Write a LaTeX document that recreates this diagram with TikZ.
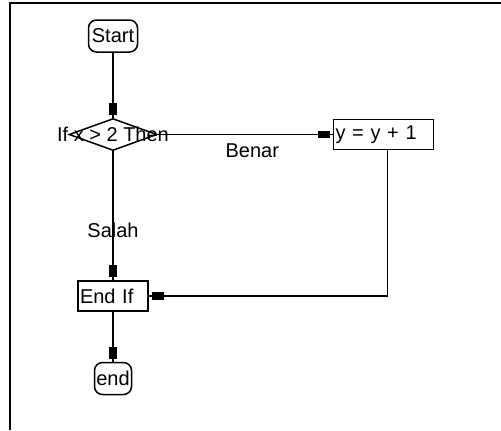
\documentclass[tikz,border=0pt]{standalone}
\usepackage{fontspec}
\setmainfont{Liberation Sans}
\usepackage{tikz}
\usetikzlibrary{arrows.meta,positioning,shapes.geometric}
\definecolor{ink}{RGB}{0,0,0}
\newcommand\chartfont{\fontsize{10}{11}\selectfont}
\tikzset{
  flow/.style={line width=0.9pt,ink,
    -{Rectangle[length=6pt,width=3.6pt]Rectangle[length=1.5pt,width=0.9pt]}},
  frame/.style={line width=0.9pt,ink},
  terminal/.style={draw=ink,line width=0.75pt,rounded corners=4pt,
    minimum width=24.5pt,minimum height=16pt,inner sep=0.5pt,font=\chartfont},
  decision/.style={diamond,draw=ink,line width=0.75pt,inner sep=0pt,
    minimum width=44pt,minimum height=16pt,font=\chartfont},
  process/.style={draw=ink,line width=0.75pt,minimum height=15pt,
    inner xsep=1pt,inner ysep=0pt,align=left,font=\chartfont},
  tag/.style={font=\chartfont,text=ink,inner sep=1pt}
}
\begin{document}
\begin{tikzpicture}[x=0.5pt,y=-0.5pt]
  \useasboundingbox (0,0) rectangle (501,430);
  \draw[frame] (10,430) -- (10,3) -- (501,3);
  \node[terminal] (start) at (113,36) {Start};
  \node[decision,below=32.5pt of start,
    label={[tag]center:If x > 2 Then}] (cond) {};
  \node[process,right=87.5pt of cond,text width=48pt] (incr) {y = y + 1};
  \node[process,below=64.5pt of cond,text width=33pt] (endif) {End If};
  \node[terminal,below=25pt of endif,minimum width=18.5pt] (stop) {end};
  \draw[flow] (start) -- (cond);
  \draw[flow] (cond) -- node[tag,below=3pt,pos=0.54] {Benar} (incr);
  \draw[flow] (cond) -- node[tag,pos=0.61] {Salah} (endif);
  \draw[flow] ([xshift=2pt]incr.south) |- (endif.east);
  \draw[flow] (endif) -- (stop);
\end{tikzpicture}
\end{document}
